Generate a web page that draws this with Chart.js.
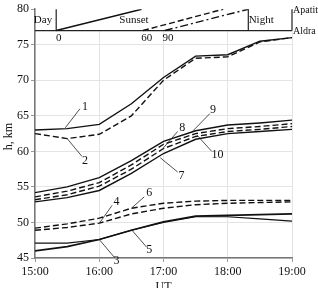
<!DOCTYPE html>
<html><head><meta charset="utf-8">
<script src="https://cdn.jsdelivr.net/npm/chart.js@4"></script>
<style>html,body{margin:0;padding:0;background:#fff;overflow:hidden}canvas{display:block}</style>
</head><body>
<canvas id="c" width="318" height="288"></canvas>
<script>
// ---- data ----
const times = [15, 15.5, 16, 16.5, 17, 17.5, 18, 18.5, 19];
const xTickLabels = ['15:00', '16:00', '17:00', '18:00', '19:00'];
const yTicks = [45, 50, 55, 60, 65, 70, 75, 80];
const curve1  = [63.0, 63.2, 63.8, 66.7, 70.4, 73.4, 73.6, 75.5, 76.0];
const curve2  = [62.5, 61.8, 62.4, 65.0, 70.0, 73.1, 73.3, 75.4, 76.0];
const curve9  = [54.2, 55.0, 56.3, 58.7, 61.4, 62.9, 63.7, 64.0, 64.4];
const curve8  = [53.6, 54.4, 55.6, 58.1, 61.0, 62.5, 63.2, 63.5, 63.9];
const curve10 = [53.2, 53.9, 55.1, 57.5, 60.4, 62.1, 62.8, 63.1, 63.5];
const curve7  = [52.9, 53.5, 54.5, 56.9, 59.7, 61.7, 62.5, 62.8, 63.1];
const curve6  = [49.2, 49.8, 50.6, 52.0, 52.7, 53.0, 53.1, 53.1, 53.1];
const curve4  = [48.9, 49.3, 49.9, 51.2, 52.0, 52.5, 52.7, 52.8, 52.9];
const curve3  = [47.1, 47.1, 47.6, 48.9, 50.0, 50.8, 50.8, 50.5, 50.2];
const curve5  = [46.0, 46.6, 47.6, 48.9, 50.1, 50.9, 51.0, 51.1, 51.2];
// inset (day / sunset / night)
const insetRange = [77, 80];
const dayEnd = 15.33, nightStart = 18.32;
const sunsetSolidX = [15.33, 16.66];
const sunsetDashX = [16.68, 17.93];
const sunsetDashDotX = [17.02, 18.32];
const insetTexts = [
  {t:'Day', x:15.125, y:78.5}, {t:'Sunset', x:16.54, y:78.5}, {t:'Night', x:18.52, y:78.5},
  {t:'0', x:15.37, y:76.0}, {t:'60', x:16.74, y:76.0}, {t:'90', x:17.07, y:76.0}
];
// curve labels with leader lines: [label, startX, startY, endX, endY, labelX, labelY]
const curveLabels = [
  ['1', 15.47, 63.3, 15.70, 66.0, 15.78, 66.3],
  ['2', 15.50, 61.8, 15.73, 59.3, 15.78, 58.7],
  ['3', 16.00, 47.6, 16.23, 45.15, 16.27, 44.55],
  ['4', 16.01, 50.0, 16.20, 52.4, 16.27, 52.9],
  ['5', 16.50, 49.0, 16.74, 46.5, 16.78, 46.1],
  ['6', 16.50, 52.0, 16.70, 53.6, 16.78, 54.1],
  ['7', 16.95, 59.1, 17.22, 57.1, 17.28, 56.5],
  ['8', 17.00, 60.5, 17.22, 62.8, 17.29, 63.3],
  ['9', 17.46, 62.9, 17.72, 65.3, 17.77, 65.8],
  ['10', 17.52, 62.3, 17.75, 60.0, 17.84, 59.5]
];

const FONT = "'Liberation Serif','Times New Roman',serif";
const DASH = [6, 3];
function series(vals, dash, w) {
  return { data: times.map((t, i) => ({x: t, y: vals[i]})), borderColor: '#111',
    borderWidth: w || 1.4, borderDash: dash || [], pointRadius: 0, fill: false, tension: 0 };
}
function seg(xs, dash) {
  return { data: [{x: xs[0], y: insetRange[0]}, {x: xs[1], y: insetRange[1]}], borderColor: '#111',
    borderWidth: 1.4, borderDash: dash || [], pointRadius: 0, fill: false };
}

const insetPlugin = {
  id: 'inset',
  beforeDatasetsDraw(chart) {
    const {ctx, chartArea: a, scales: {x, y}} = chart;
    const yb = y.getPixelForValue(insetRange[0]);
    ctx.save();
    ctx.fillStyle = '#fff';
    ctx.fillRect(a.left + 1, a.top - 2, a.right - a.left + 2, yb - a.top + 2);
    ctx.strokeStyle = '#222'; ctx.lineWidth = 1.2;
    ctx.beginPath();
    ctx.moveTo(a.left, yb); ctx.lineTo(a.right, yb);
    [dayEnd, nightStart, 19].forEach(v => {
      const px = x.getPixelForValue(v);
      ctx.moveTo(px, yb); ctx.lineTo(px, y.getPixelForValue(insetRange[1]));
    });
    ctx.stroke();
    ctx.fillStyle = '#111'; ctx.font = '11px ' + FONT;
    ctx.textAlign = 'center'; ctx.textBaseline = 'middle';
    insetTexts.forEach(o => ctx.fillText(o.t, x.getPixelForValue(o.x), y.getPixelForValue(o.y)));
    ctx.restore();
  },
  afterDraw(chart) {
    const {ctx, chartArea: a, scales: {x, y}} = chart;
    ctx.save();
    ctx.strokeStyle = '#222'; ctx.lineWidth = 0.8; ctx.setLineDash([]);
    ctx.fillStyle = '#111'; ctx.font = '12px ' + FONT;
    ctx.textAlign = 'center'; ctx.textBaseline = 'middle';
    curveLabels.forEach(l => {
      ctx.beginPath();
      ctx.moveTo(x.getPixelForValue(l[1]), y.getPixelForValue(l[2]));
      ctx.lineTo(x.getPixelForValue(l[3]), y.getPixelForValue(l[4]));
      ctx.stroke();
      ctx.fillText(l[0], x.getPixelForValue(l[5]), y.getPixelForValue(l[6]));
    });
    // site labels right of plot
    ctx.font = '10px ' + FONT; ctx.textAlign = 'left';
    ctx.fillText('Apatit', a.right + 1, y.getPixelForValue(insetRange[1]) + 1);
    ctx.fillText('Aldra', a.right + 1, y.getPixelForValue(insetRange[0]) + 1);
    // axis titles
    ctx.font = '12px ' + FONT; ctx.textAlign = 'center';
    ctx.fillText('UT', (a.left + a.right) / 2, 286.5);
    ctx.translate(9, (a.top + a.bottom) / 2 + 3);
    ctx.rotate(-Math.PI / 2);
    ctx.fillText('h, km', 0, 0);
    ctx.restore();
  }
};

new Chart(document.getElementById('c'), {
  type: 'line',
  data: { datasets: [
    series(curve1), series(curve2, DASH),
    series(curve9), series(curve8, DASH), series(curve10, DASH), series(curve7),
    series(curve6, DASH), series(curve4, DASH), series(curve3, null, 1.2), series(curve5, null, 1.7),
    seg(sunsetSolidX), seg(sunsetDashX, DASH), seg(sunsetDashDotX, [8, 3, 2, 3])
  ]},
  options: {
    responsive: false, animation: false, devicePixelRatio: 1,
    layout: { padding: { top: 6, right: 26, left: 0, bottom: 0 } },
    plugins: { legend: { display: false }, tooltip: { enabled: false } },
    scales: {
      x: { type: 'linear', min: 15, max: 19,
        afterFit(s) { s.height = 30; },
        afterBuildTicks(s) { s.ticks = xTickLabels.map((_, i) => ({value: 15 + i})); },
        ticks: { callback: (v) => xTickLabels[v - 15], font: {family: FONT, size: 12}, color: '#111', padding: 3, maxRotation: 0 },
        grid: { color: '#e4e4e4', lineWidth: 1, tickLength: 4, tickColor: '#999' },
        border: { color: '#777', width: 1.5 } },
      y: { min: 45, max: 80,
        afterFit(s) { s.width = 35; },
        afterBuildTicks(s) { s.ticks = yTicks.map(v => ({value: v})); },
        ticks: { font: {family: FONT, size: 12}, color: '#111', padding: 2 },
        grid: { color: '#e4e4e4', lineWidth: 1, tickLength: 4, tickColor: '#999' },
        border: { color: '#777', width: 1.5 } }
    }
  },
  plugins: [insetPlugin]
});
</script>
</body></html>
